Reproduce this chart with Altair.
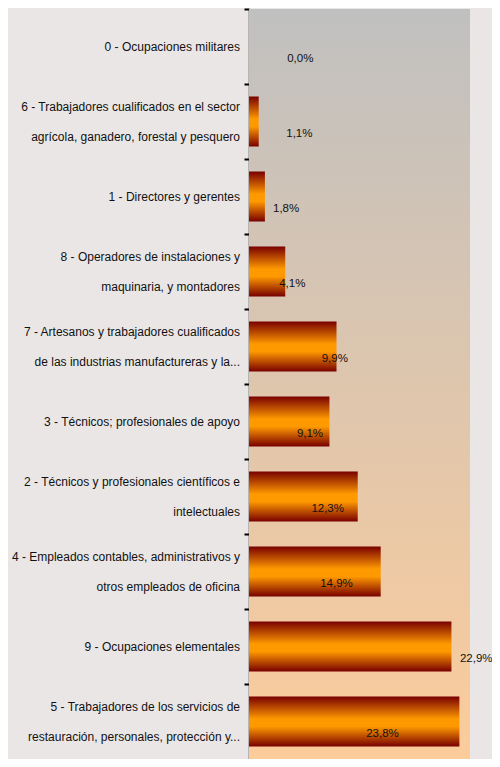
import altair as alt
import pandas as pd

categories = [
    "0 - Ocupaciones militares",
    "6 - Trabajadores cualificados en el sector|agrícola, ganadero, forestal y pesquero",
    "1 - Directores y gerentes",
    "8 - Operadores de instalaciones y|maquinaria, y montadores",
    "7 - Artesanos y trabajadores cualificados|de las industrias manufactureras y la...",
    "3 - Técnicos; profesionales de apoyo",
    "2 - Técnicos y profesionales científicos e|intelectuales",
    "4 - Empleados contables, administrativos y|otros empleados de oficina",
    "9 - Ocupaciones elementales",
    "5 - Trabajadores de los servicios de|restauración, personales, protección y...",
]
values = [0.0, 1.1, 1.8, 4.1, 9.9, 9.1, 12.3, 14.9, 22.9, 23.8]
# where each value label sits along the axis (in % units, as placed in the original)
label_at = [5.8, 5.7, 4.2, 4.9, 9.7, 6.9, 8.9, 9.9, 25.7, 15.1]

df = pd.DataFrame({"cat": categories, "value": values, "label_at": label_at})

FONT = "Liberation Sans, Arial, sans-serif"
W, H = 221, 750

y_enc = alt.Y(
    "cat:N",
    sort=categories,
    scale=alt.Scale(paddingInner=0, paddingOuter=0),
    axis=alt.Axis(
        title=None,
        labels=False,
        tickSize=5,
        tickWidth=2,
        tickColor="#000000",
        bandPosition=0,
        domainColor="#222222",
        domainWidth=1.5,
        grid=False,
    ),
)
y_plain = alt.Y("cat:N", sort=categories)
x_scale = alt.Scale(domain=[0, 25], nice=False)

bg = alt.Chart(alt.Data(values=[{}])).mark_rect(
    fill={
        "gradient": "linear",
        "x1": 0, "x2": 0, "y1": 0, "y2": 1,
        "stops": [
            {"offset": 0, "color": "#c0c0c0"},
            {"offset": 1, "color": "#fccc9b"},
        ],
    }
).encode(x=alt.value(0), x2=alt.value(W), y=alt.value(0), y2=alt.value(H))

bars = alt.Chart(df).mark_bar(
    height=50,
    fill={
        "gradient": "linear",
        "x1": 0, "x2": 0, "y1": 0, "y2": 1,
        "stops": [
            {"offset": 0, "color": "#780000"},
            {"offset": 0.45, "color": "#ff9900"},
            {"offset": 0.6, "color": "#ff9900"},
            {"offset": 1, "color": "#780000"},
        ],
    },
).encode(
    x=alt.X("value:Q", scale=x_scale, axis=None),
    y=y_enc,
)

# category labels: one-line ones centred on the band, two-line ones centred as a block
cat_one = alt.Chart(df).transform_filter(
    "indexof(datum.cat, '|') < 0"
).mark_text(
    font=FONT, fontSize=12, color="#111111", align="right", baseline="middle"
).encode(x=alt.value(-9), y=y_plain, text="cat:N")

cat_two = alt.Chart(df).transform_filter(
    "indexof(datum.cat, '|') >= 0"
).mark_text(
    font=FONT, fontSize=12, color="#111111", align="right", baseline="middle",
    lineBreak="|", lineHeight=30, dy=-15,
).encode(x=alt.value(-9), y=y_plain, text="cat:N")

labels = alt.Chart(df).transform_calculate(
    txt="replace(format(datum.value, '.1f'), '.', ',') + '%'"
).mark_text(
    font=FONT, fontSize=11.5, color="#111111", dy=12, align="center", baseline="middle"
).encode(
    x=alt.X("label_at:Q", scale=x_scale, axis=None),
    y=y_plain,
    text="txt:N",
)

chart = (
    alt.layer(bg, bars, labels, cat_one, cat_two)
    .properties(
        width=W,
        height=H,
        autosize=alt.AutoSizeParams(type="none"),
        padding={"left": 241, "top": 1, "right": 22, "bottom": 0},
    )
    .configure(background="#ebe6e6")
    .configure_view(stroke=None)
)

chart.save("out.html", embed_options={"renderer": "svg", "actions": False})
